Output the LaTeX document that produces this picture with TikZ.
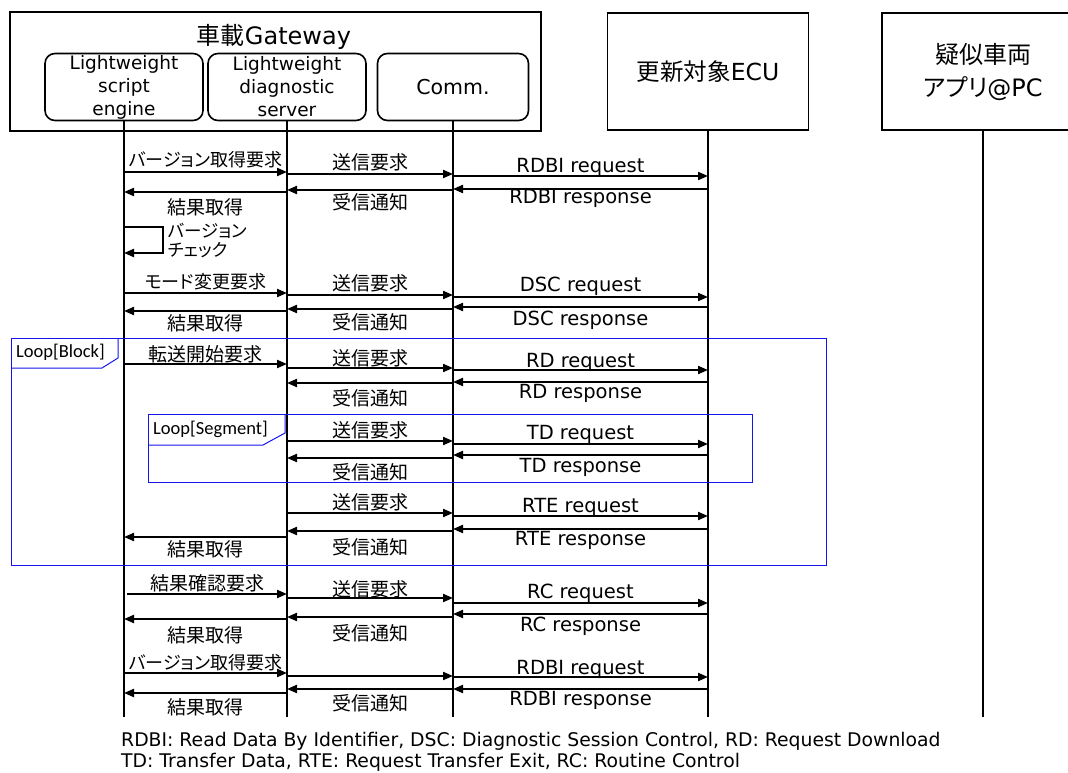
\documentclass[tikz,border=0pt]{standalone}
\usepackage{fontspec}
\setmainfont{DejaVu Sans}
\newfontfamily\jp[RawFeature=+palt]{Noto Sans CJK JP}
\newfontfamily\calfont{Carlito}
\usetikzlibrary{arrows.meta}
\definecolor{loopblue}{RGB}{20,20,235}
\newcommand\jl{\jp\fontsize{19}{22}\selectfont}
\newcommand\jk{\jp\fontsize{18}{22}\selectfont}
\tikzset{
  msg/.style={line width=2pt, -{Triangle[length=10pt,width=8pt]}},
  life/.style={line width=2pt},
  box/.style={draw, line width=1.6pt},
  subbox/.style={draw, line width=1.6pt, rounded corners=10pt, inner sep=0pt, align=center,
    font=\fontsize{18.5}{23}\selectfont},
  lbl/.style={inner sep=0pt, font=\fontsize{19.5}{22}\selectfont},
  loopbox/.style={draw=loopblue, line width=1pt},
  looplbl/.style={inner sep=0pt, anchor=west, font=\calfont\fontsize{18.5}{22}\selectfont},
}
\newcommand\msgline[5]{\draw[msg] (#1 |- 0,#3) -- (#2 |- 0,#3) node[midway, yshift=#5pt, lbl]{#4};}
\begin{document}
\begin{tikzpicture}[x=1pt,y=-1pt]
\useasboundingbox (0,0) rectangle (1068,773);
% gateway
\draw[box] (10,12) rectangle (541,131);
\node[inner sep=0pt, font=\fontsize{24}{26}\selectfont] (gwtitle) at (274,37) {{\jp 車載}Gateway};
\node[subbox, minimum width=158pt, minimum height=67pt] (sb1) at (124,87) {Lightweight\\script\\engine};
\node[subbox, minimum width=158pt, minimum height=67pt] (sb2) at (287,87) {Lightweight\\diagnostic\\server};
\node[subbox, minimum width=151pt, minimum height=67pt, font=\fontsize{20.5}{23}\selectfont] (sb3) at (453,87) {Comm.};
% ECU
\node[box, minimum width=201pt, minimum height=117pt, inner sep=0pt, font=\fontsize{23.5}{26}\selectfont] (ecu) at (708,71.5) {{\jp 更新対象}ECU};
% PC (cut at right edge)
\draw[box] (1070,13) -- (882,13) -- (882,130) -- (1070,130);
\coordinate (pcbot) at (983,130);
\node[inner sep=0pt, align=center, font=\fontsize{24}{33}\selectfont] (pctext) at (983,72) {{\jp 疑似車両}\\{\jp アプリ}@PC};
% lifelines
\coordinate (L1) at (sb1.south);
\coordinate (L2) at (sb2.south);
\coordinate (L3) at (sb3.south);
\coordinate (L4) at (ecu.south);
\coordinate (L5) at (pcbot);
\foreach \l in {L1,L2,L3,L4,L5} \draw[life] (\l) -- (\l |- 0,717);

% first RDBI
\msgline{L1}{L2}{172}{{\jk バージョン取得要求}}{12}
\msgline{L2}{L3}{174}{{\jl 送信要求}}{12}
\msgline{L3}{L4}{176}{RDBI request}{9}
\msgline{L4}{L3}{189}{RDBI response}{-9}
\msgline{L3}{L2}{190}{{\jl 受信通知}}{-12}
\msgline{L2}{L1}{192}{{\jl 結果取得}}{-15}
% self check
\coordinate (sc) at (163,253);
\draw[msg] (L1 |- 0,227) -| (sc) -- (L1 |- sc);
\node[lbl, anchor=west, align=left, font=\jp\fontsize{17.5}{19}\selectfont] (chk) at (168,240) {バージョン\\チェック};
% DSC
\msgline{L1}{L2}{293}{{\jk モード変更要求}}{11}
\msgline{L2}{L3}{295}{{\jl 送信要求}}{12}
\msgline{L3}{L4}{297}{DSC request}{11}
\msgline{L4}{L3}{307}{DSC response}{-13}
\msgline{L3}{L2}{309}{{\jl 受信通知}}{-13}
\msgline{L2}{L1}{311}{{\jl 結果取得}}{-12}
% Loop block
\draw[loopbox] (11,338) rectangle (826,565);
\draw[loopbox] (118,338) -- (118,358) -- (102,368) -- (11,368);
\node[looplbl] (lpb) at (16,352) {Loop[Block]};
\msgline{L1}{L2}{364}{{\jl 転送開始要求}}{10}
\msgline{L2}{L3}{368}{{\jl 送信要求}}{10}
\msgline{L3}{L4}{370}{RD request}{8}
\msgline{L4}{L3}{382}{RD response}{-11}
\msgline{L3}{L2}{383}{{\jl 受信通知}}{-15}
% Loop segment
\draw[loopbox] (148,414) rectangle (752,482);
\draw[loopbox] (285,414) -- (285,433) -- (263,445) -- (148,445);
\node[looplbl] (lps) at (153,429) {Loop[Segment]};
\msgline{L2}{L3}{441}{{\jl 送信要求}}{11}
\msgline{L3}{L4}{444}{TD request}{10}
\msgline{L4}{L3}{455}{TD response}{-12}
\msgline{L3}{L2}{458}{{\jl 受信通知}}{-14}
% RTE
\msgline{L2}{L3}{513}{{\jl 送信要求}}{11}
\msgline{L3}{L4}{516}{RTE request}{9}
\msgline{L4}{L3}{529}{RTE response}{-11}
\msgline{L3}{L2}{531}{{\jl 受信通知}}{-16}
\msgline{L2}{L1}{537}{{\jl 結果取得}}{-12}
% RC
\draw[msg] ([xshift=3pt]L1 |- 0,594) -- (L2 |- 0,594) node[midway, yshift=11pt, lbl]{{\jl 結果確認要求}};
\msgline{L2}{L3}{598}{{\jl 送信要求}}{9}
\msgline{L3}{L4}{603}{RC request}{10}
\msgline{L4}{L3}{614}{RC response}{-12}
\msgline{L3}{L2}{617}{{\jl 受信通知}}{-16}
\msgline{L2}{L1}{619}{{\jl 結果取得}}{-16}
% final RDBI
\msgline{L1}{L2}{673}{{\jk バージョン取得要求}}{10}
\draw[msg] (L2 |- 0,676) -- (L3 |- 0,676);
\msgline{L3}{L4}{677}{RDBI request}{8}
\msgline{L4}{L3}{689}{RDBI response}{-11}
\msgline{L3}{L2}{689}{{\jl 受信通知}}{-14}
\msgline{L2}{L1}{693}{{\jl 結果取得}}{-14}
% footnote
\node[inner sep=0pt, anchor=west, align=left, font=\fontsize{18.8}{20.5}\selectfont] (note) at (121,752)
 {RDBI: Read Data By Identifier, DSC: Diagnostic Session Control, RD: Request Download\\
  TD: Transfer Data, RTE: Request Transfer Exit, RC: Routine Control};
\end{tikzpicture}
\end{document}
